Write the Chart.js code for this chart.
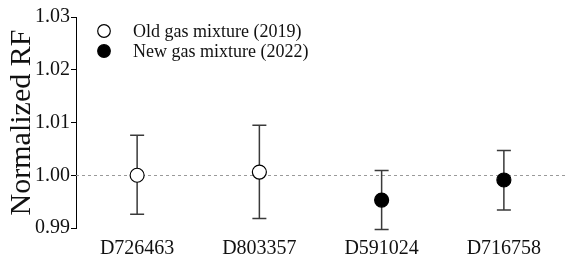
<!DOCTYPE html>
<html>
<head>
<meta charset="utf-8">
<script src="https://cdn.jsdelivr.net/npm/chart.js@4/dist/chart.umd.min.js"></script>
<style>
  html, body { margin: 0; padding: 0; background: #fff; }
  #wrap { width: 565px; height: 257px; }
</style>
</head>
<body>
<div id="wrap"><canvas id="c"></canvas></div>
<script>
var categories = ['D726463', 'D803357', 'D591024', 'D716758'];
var oldValues = [1.0000, 1.0006, null, null];
var oldErrLow = [0.9926, 0.9918, null, null];
var oldErrHigh = [1.0076, 1.0095, null, null];
var newValues = [null, null, 0.9953, 0.9991];
var newErrLow = [null, null, 0.9897, 0.9934];
var newErrHigh = [null, null, 1.0009, 1.0047];
var yTicks = [0.99, 1.00, 1.01, 1.02, 1.03];
var refLine = 1.00;

var serif = '"Liberation Serif", "DejaVu Serif", serif';

// error bars + dashed reference line + legend inside the plot
var extras = {
    id: 'extras',
    beforeDatasetsDraw: function (chart) {
        var ctx = chart.ctx;
        var area = chart.chartArea;
        var y = chart.scales.y;
        var yy = Math.round(y.getPixelForValue(refLine)) + 0.5;
        ctx.save();
        ctx.strokeStyle = '#9a9a9a';
        ctx.lineWidth = 1;
        ctx.setLineDash([3, 3]);
        ctx.beginPath();
        ctx.moveTo(area.left, yy);
        ctx.lineTo(area.right, yy);
        ctx.stroke();
        ctx.setLineDash([]);

        ctx.strokeStyle = '#3a3a3a';
        ctx.lineWidth = 1.5;
        chart.data.datasets.forEach(function (ds, di) {
            var meta = chart.getDatasetMeta(di);
            ds.data.forEach(function (v, i) {
                if (v === null) return;
                var x = meta.data[i].x;
                var lo = y.getPixelForValue(ds.errLow[i]);
                var hi = y.getPixelForValue(ds.errHigh[i]);
                ctx.beginPath();
                ctx.moveTo(x, lo); ctx.lineTo(x, hi);
                ctx.moveTo(x - 7, lo); ctx.lineTo(x + 7, lo);
                ctx.moveTo(x - 7, hi); ctx.lineTo(x + 7, hi);
                ctx.stroke();
            });
        });
        ctx.restore();
    },
    afterDraw: function (chart) {
        var ctx = chart.ctx;
        ctx.save();
        ctx.font = '18px ' + serif;
        ctx.textBaseline = 'middle';
        chart.data.datasets.forEach(function (ds, di) {
            var cy = 31 + di * 20;
            ctx.beginPath();
            ctx.arc(104, cy, 6.3, 0, Math.PI * 2);
            ctx.fillStyle = ds.backgroundColor;
            ctx.fill();
            ctx.lineWidth = 1.2;
            ctx.strokeStyle = '#000';
            ctx.stroke();
            ctx.fillStyle = '#111';
            ctx.fillText(ds.label, 133, cy + 1);
        });
        ctx.restore();
    }
};

new Chart(document.getElementById('c'), {
    type: 'line',
    data: {
        labels: categories,
        datasets: [
            {
                label: 'Old gas mixture (2019)',
                data: oldValues,
                errLow: oldErrLow,
                errHigh: oldErrHigh,
                showLine: false,
                pointRadius: 7,
                borderWidth: 1.2,
                borderColor: '#000',
                backgroundColor: '#fff'
            },
            {
                label: 'New gas mixture (2022)',
                data: newValues,
                errLow: newErrLow,
                errHigh: newErrHigh,
                showLine: false,
                pointRadius: 7,
                borderWidth: 1.2,
                borderColor: '#000',
                backgroundColor: '#000'
            }
        ]
    },
    options: {
        responsive: true,
        maintainAspectRatio: false,
        animation: false,
        layout: { autoPadding: false, padding: { top: 17, right: 0, bottom: 0, left: 0 } },
        plugins: {
            legend: { display: false },
            tooltip: { enabled: false }
        },
        scales: {
            x: {
                offset: true,
                grid: { display: false },
                border: { display: false },
                afterFit: function (axis) {
                    axis.height = 29;
                    axis.paddingLeft = 0;
                    axis.paddingRight = 0;
                },
                ticks: { color: '#111', font: { family: serif, size: 20, lineHeight: 1 }, padding: 3, maxRotation: 0 }
            },
            y: {
                min: 0.99,
                max: 1.03,
                afterBuildTicks: function (axis) {
                    axis.ticks = yTicks.map(function (v) { return { value: v }; });
                },
                afterFit: function (axis) { axis.width = 76; },
                grid: { drawOnChartArea: false, drawTicks: true, tickLength: 5, tickColor: '#000' },
                border: { display: true, color: '#000', width: 1 },
                ticks: {
                    color: '#111',
                    padding: 1,
                    font: { family: serif, size: 20 },
                    callback: function (v) { return Number(v).toFixed(2); }
                },
                title: {
                    display: true,
                    text: 'Normalized RF',
                    color: '#111',
                    font: { family: serif, size: 30, lineHeight: 1 },
                    padding: { top: 7, bottom: 0 }
                }
            }
        }
    },
    plugins: [extras]
});
</script>
</body>
</html>
